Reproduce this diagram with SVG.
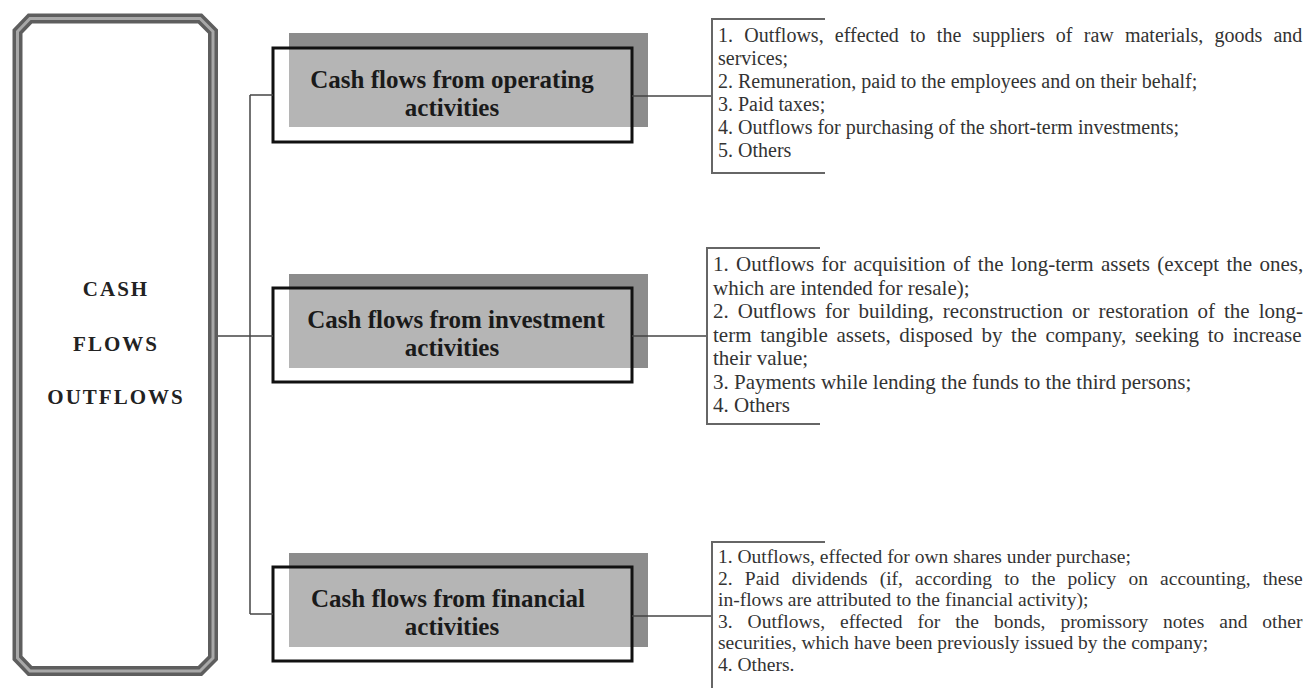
<svg xmlns="http://www.w3.org/2000/svg" width="1310" height="688" viewBox="0 0 1310 688">
<style>
.frame{fill:none;stroke:#5e5e5e;stroke-width:10;stroke-linejoin:miter}
.frameIn{fill:none;stroke:#a8a8a8;stroke-width:3}
.shadow{fill:#8c8c8c}
.inner{fill:#b5b5b5}
.outline{fill:none;stroke:#111;stroke-width:3}
.conn{fill:none;stroke:#444;stroke-width:1.5}
.brk{fill:none;stroke:#666;stroke-width:2}
.big{font-family:"Liberation Serif","Times New Roman",serif;font-weight:bold;font-size:21px;fill:#222;text-anchor:middle;letter-spacing:2px}
.hd{font-family:"Liberation Serif","Times New Roman",serif;font-weight:bold;font-size:25px;fill:#1a1a1a;text-anchor:middle}
.t1{font-family:"Liberation Serif","Times New Roman",serif;font-size:20px;fill:#333}
.t2{font-family:"Liberation Serif","Times New Roman",serif;font-size:21px;fill:#333}
.t3{font-family:"Liberation Serif","Times New Roman",serif;font-size:19.5px;fill:#333}
</style>
<rect width="1310" height="688" fill="#fff"/>

<g id="cash-flows-outflows">
<path class="frame" d="M30 18.5 H200 L213 31.5 V658 L200 671 H30 L17.5 658 V31.5 Z"/>
<path class="frameIn" d="M30 18.5 H200 L213 31.5 V658 L200 671 H30 L17.5 658 V31.5 Z"/>
<text class="big" x="116" y="296">CASH</text>
<text class="big" x="116" y="351">FLOWS</text>
<text class="big" x="116" y="404">OUTFLOWS</text>
</g>

<g id="operating">
<rect class="shadow" x="289" y="33" width="359" height="94"/>
<rect x="273" y="48" width="359" height="94" fill="#fff"/>
<rect class="inner" x="289" y="48" width="343" height="79"/>
<rect class="outline" x="273" y="48" width="359" height="94"/>
<text class="hd" x="452" y="88">Cash flows from operating</text>
<text class="hd" x="452" y="116">activities</text>
</g>

<g id="investment">
<rect class="shadow" x="289" y="274" width="359" height="94"/>
<rect x="273" y="288" width="359" height="94" fill="#fff"/>
<rect class="inner" x="289" y="288" width="343" height="80"/>
<rect class="outline" x="273" y="288" width="359" height="94"/>
<text class="hd" x="456" y="328">Cash flows from investment</text>
<text class="hd" x="452" y="356">activities</text>
</g>

<g id="financial">
<rect class="shadow" x="289" y="553" width="359" height="94"/>
<rect x="273" y="567" width="359" height="94" fill="#fff"/>
<rect class="inner" x="289" y="567" width="343" height="80"/>
<rect class="outline" x="273" y="567" width="359" height="94"/>
<text class="hd" x="448" y="607">Cash flows from financial</text>
<text class="hd" x="452" y="635">activities</text>
</g>

<g id="connectors">
<path class="conn" d="M218 336 H273"/>
<path class="conn" d="M250 95 V614"/>
<path class="conn" d="M250 95 H273"/>
<path class="conn" d="M250 614 H273"/>
<path class="conn" d="M632 96 H712"/>
<path class="conn" d="M632 336 H707"/>
<path class="conn" d="M632 616 H712"/>
</g>

<g id="list-operating">
<path class="brk" d="M825 19 H712 V173 H825"/>
<text class="t1" x="718" y="42" word-spacing="6.2">1. Outflows, effected to the suppliers of raw materials, goods and</text>
<text class="t1" x="718" y="65">services;</text>
<text class="t1" x="718" y="88">2. Remuneration, paid to the employees and on their behalf;</text>
<text class="t1" x="718" y="111">3. Paid taxes;</text>
<text class="t1" x="718" y="134">4. Outflows for purchasing of the short-term investments;</text>
<text class="t1" x="718" y="157">5. Others</text>
</g>

<g id="list-investment">
<path class="brk" d="M820 248 H707 V424 H820"/>
<text class="t2" x="713" y="271" word-spacing="2.1">1. Outflows for acquisition of the long-term assets (except the ones,</text>
<text class="t2" x="713" y="294.5">which are intended for resale);</text>
<text class="t2" x="713" y="318" word-spacing="3.8">2. Outflows for building, reconstruction or restoration of the long-</text>
<text class="t2" x="713" y="341.5" word-spacing="3.4">term tangible assets, disposed by the company, seeking to increase</text>
<text class="t2" x="713" y="365">their value;</text>
<text class="t2" x="713" y="388.5">3. Payments while lending the funds to the third persons;</text>
<text class="t2" x="713" y="412">4. Others</text>
</g>

<g id="list-financial">
<path class="brk" d="M825 542 H712 V688"/>
<text class="t3" x="718" y="563">1. Outflows, effected for own shares under purchase;</text>
<text class="t3" x="718" y="584.5" word-spacing="7.3">2. Paid dividends (if, according to the policy on accounting, these</text>
<text class="t3" x="718" y="606">in-flows are attributed to the financial activity);</text>
<text class="t3" x="718" y="627.5" word-spacing="10.1">3. Outflows, effected for the bonds, promissory notes and other</text>
<text class="t3" x="718" y="649">securities, which have been previously issued by the company;</text>
<text class="t3" x="718" y="670.5">4. Others.</text>
</g>
</svg>
